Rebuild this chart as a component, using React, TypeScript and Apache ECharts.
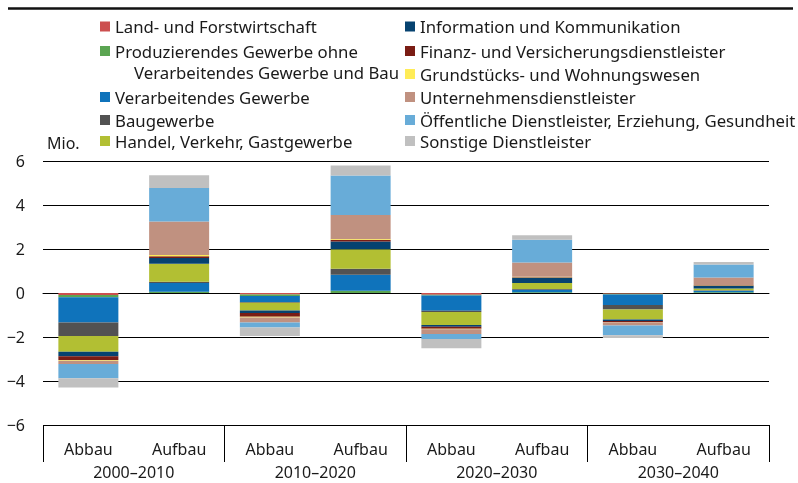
import React, { useEffect, useRef } from "react";
import * as echarts from "echarts";

const categories = ["Abbau", "Aufbau", "Abbau", "Aufbau", "Abbau", "Aufbau", "Abbau", "Aufbau"];
const decades = ["2000–2010", "2010–2020", "2020–2030", "2030–2040"];
const yTicks = { min: -6, max: 6, interval: 2 };

const seriesNames = [
  "Land- und Forstwirtschaft",
  "Produzierendes Gewerbe ohne",
  "Verarbeitendes Gewerbe",
  "Baugewerbe",
  "Handel, Verkehr, Gastgewerbe",
  "Information und Kommunikation",
  "Finanz- und Versicherungsdienstleister",
  "Grundstücks- und Wohnungswesen",
  "Unternehmensdienstleister",
  "Öffentliche Dienstleister, Erziehung, Gesundheit",
  "Sonstige Dienstleister",
];

const land = [-0.09, 0, -0.07, 0, -0.08, 0, -0.03, 0];
const produz = [-0.1, 0.06, -0.07, 0.1, -0.03, 0.03, -0.04, 0.03];
const verarb = [-1.15, 0.39, -0.27, 0.73, -0.7, 0.12, -0.48, 0.07];
const bau = [-0.62, 0.06, -0.03, 0.27, -0.05, 0.03, -0.2, 0.02];
const handel = [-0.71, 0.82, -0.35, 0.89, -0.59, 0.27, -0.45, 0.09];
const info = [-0.2, 0.26, -0.12, 0.35, -0.08, 0.24, -0.07, 0.12];
const finanz = [-0.17, 0.08, -0.17, 0.08, -0.1, 0.03, -0.05, 0.02];
const grundst = [-0.04, 0.06, -0.03, 0.04, -0.02, 0.02, -0.01, 0.01];
const untern = [-0.15, 1.52, -0.23, 1.09, -0.21, 0.65, -0.15, 0.35];
const oeffentl = [-0.64, 1.52, -0.23, 1.79, -0.23, 1.03, -0.44, 0.58];
const sonstige = [-0.42, 0.58, -0.38, 0.45, -0.42, 0.2, -0.12, 0.12];

const seriesValues = [land, produz, verarb, bau, handel, info, finanz, grundst, untern, oeffentl, sonstige];

const colors = [
  "#cc4f4f",
  "#5ba552",
  "#0f73bb",
  "#525252",
  "#b2bf33",
  "#064270",
  "#7a1c14",
  "#ffec57",
  "#c09180",
  "#68acd8",
  "#c0c0c0",
];

const FONT = "'Noto Sans', sans-serif";
const TEXT = "#1a1a1a";
const LEGEND_FS = 16.75;

export default function App() {
  const ref = useRef<HTMLDivElement>(null);

  useEffect(() => {
    if (!ref.current) return;
    const chart = echarts.init(ref.current, undefined, { renderer: "svg" });

    const leftCol = [0, 1, 2, 3, 4];
    const leftTops = [21, 45.5, 91.5, 114.5, 135.5];
    const rightCol = [5, 6, 7, 8, 9, 10];
    const rightTops = [21, 45.5, 68.5, 91.5, 114.5, 135.5];

    const legendBase = {
      orient: "horizontal",
      itemWidth: 10,
      itemHeight: 10,
      padding: 0,
      icon: "rect",
      selectedMode: false,
      textStyle: { fontFamily: FONT, fontSize: LEGEND_FS, color: TEXT, lineHeight: 16 },
    };

    const legends: any[] = [];
    leftCol.forEach((si, i) => {
      legends.push({ ...legendBase, data: [seriesNames[si]], left: 100, top: leftTops[i] - 3 });
    });
    rightCol.forEach((si, i) => {
      legends.push({ ...legendBase, data: [seriesNames[si]], left: 405, top: rightTops[i] - 3 });
    });

    const option: any = {
      animation: false,
      textStyle: { fontFamily: FONT },
      grid: { left: 43, right: 29, top: 161, bottom: 58, containLabel: false },
      legend: legends,
      xAxis: [
        {
          type: "category",
          data: categories,
          position: "bottom",
          axisLine: { show: true, lineStyle: { color: "#000", width: 1 } },
          axisTick: { show: false },
          axisLabel: {
            fontFamily: FONT,
            fontSize: 16,
            color: TEXT,
            margin: 24,
            interval: 0,
            verticalAlign: "middle",
            lineHeight: 14,
          },
        },
        {
          type: "category",
          data: decades,
          position: "bottom",
          axisLine: { show: false },
          axisTick: { show: true, length: 37, lineStyle: { color: "#000", width: 1 } },
          axisLabel: {
            fontFamily: FONT,
            fontSize: 16,
            color: TEXT,
            margin: 47,
            interval: 0,
            verticalAlign: "middle",
            lineHeight: 14,
          },
        },
      ],
      yAxis: {
        type: "value",
        min: yTicks.min,
        max: yTicks.max,
        interval: yTicks.interval,
        axisLine: { show: false },
        axisTick: { show: false },
        splitLine: { show: true, lineStyle: { color: "#000", width: 1 } },
        axisLabel: {
          fontFamily: FONT,
          fontSize: 16,
          color: TEXT,
          margin: 18,
          formatter: (v: number) => String(v).replace("-", "−"),
        },
      },
      series: seriesNames.map((name, i) => ({
        name,
        type: "bar",
        stack: "total",
        xAxisIndex: 0,
        barWidth: 60,
        data: seriesValues[i],
        itemStyle: { color: colors[i] },
        emphasis: { disabled: true },
      })),
      graphic: [
        {
          type: "line",
          shape: { x1: 8, y1: 8.5, x2: 793, y2: 8.5 },
          style: { stroke: "#111", lineWidth: 2.5 },
        },
        {
          type: "text",
          left: 47,
          top: 135,
          style: { text: "Mio.", fontFamily: FONT, fontSize: 16, fill: TEXT },
        },
        {
          type: "text",
          x: 134,
          y: 72.5,
          style: {
            text: "Verarbeitendes Gewerbe und Bau",
            fontFamily: FONT,
            fontSize: LEGEND_FS,
            fill: TEXT,
            verticalAlign: "middle",
          },
        },
      ],
    };

    chart.setOption(option);
    return () => chart.dispose();
  }, []);

  return (
    <div
      ref={ref}
      style={{ position: "fixed", left: 0, top: 0, width: 798, height: 483 }}
    />
  );
}
